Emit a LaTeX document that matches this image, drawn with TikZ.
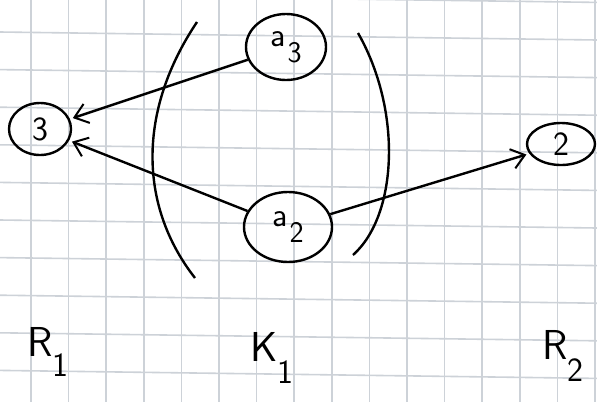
\documentclass[tikz,border=0pt]{standalone}
\usepackage{fontspec}
\usetikzlibrary{shapes.geometric,arrows.meta}
\begin{document}
\begin{tikzpicture}[x=1bp,y=-1bp,
  ink/.style={line width=2.4bp,black},
  vert/.style={draw, ellipse, ink, inner sep=0pt, font=\sffamily\fontsize{34}{34}\selectfont},
  lbl/.style={font=\sffamily\fontsize{42}{42}\selectfont, inner sep=0pt},
  arr/.style={ink,-{Straight Barb[length=13bp,width=20bp,line width=2bp]}, shorten >=3bp},
  gridline/.style={line width=1.6bp, color={rgb,255:red,205;green,210;blue,216}}
]
\useasboundingbox (0,0) rectangle (597,402);
\fill[white] (0,0) rectangle (597,402);
% grid paper
\foreach \i in {0,...,15} {
  \draw[gridline] ({31+37.6*\i},0) -- ({31+37.6*\i},402);
}
\foreach \j in {-1,...,10} {
  \draw[gridline] (0,{32+37.6*\j}) -- (597,{40+37.6*\j});
}
% nodes
\node[vert, minimum width=62bp, minimum height=52bp] (n3) at (40,129) {3};
\node[vert, minimum width=80bp, minimum height=66bp] (a3) at (286,47) {a\kern2bp\raisebox{-16bp}{\fontsize{30}{30}\selectfont 3}};
\node[vert, minimum width=88bp, minimum height=70bp] (a2) at (288,227) {a\kern2bp\raisebox{-16bp}{\fontsize{30}{30}\selectfont 2}};
\node[vert, minimum width=68bp, minimum height=42bp] (n2) at (561,144) {2};
% parentheses
\draw[ink] (197,22) .. controls (138,110) and (138,205) .. (195,278);
\draw[ink] (358,33) .. controls (402,110) and (398,215) .. (353,255);
% arrows
\draw[arr] (a3) -- (n3);
\draw[arr] (a2) -- (n3);
\draw[arr] (a2) -- (n2);
% labels
\node[lbl] (r1) at (48,352) {R\raisebox{-20bp}{\fontsize{34}{34}\selectfont 1}};
\node[lbl] (k1) at (272,358) {K\raisebox{-22bp}{\fontsize{34}{34}\selectfont 1}};
\node[lbl] (r2) at (563,356) {R\raisebox{-22bp}{\fontsize{34}{34}\selectfont 2}};
\end{tikzpicture}
\end{document}
